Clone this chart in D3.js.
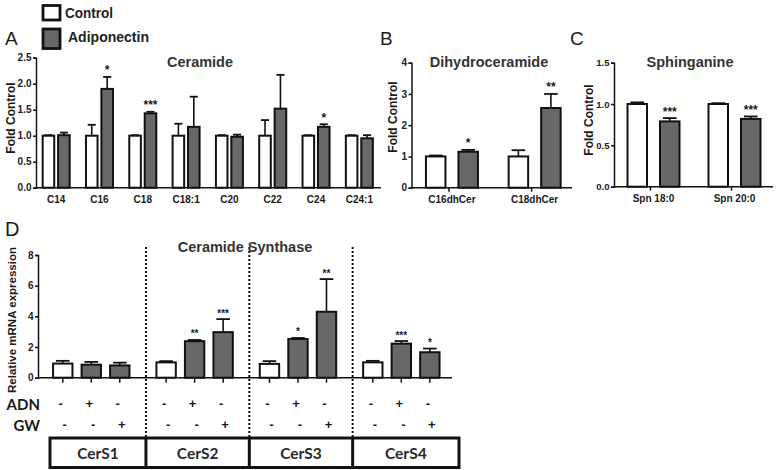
<!DOCTYPE html>
<html>
<head>
<meta charset="utf-8">
<script src="https://cdn.jsdelivr.net/npm/d3@7"></script>
<style>
  body { margin: 0; background: #fff; }
  svg text { fill: #1a1a1a; font-family: "Liberation Sans", Arial, sans-serif; }
  svg text.cal { font-family: Lato, "Open Sans", sans-serif; }
</style>
</head>
<body>
<svg width="777" height="470"></svg>
<script>
// ---- data ----------------------------------------------------------------
var series = ['Control', 'Adiponectin'];

// panel A: ceramide species
var aCats = ['C14', 'C16', 'C18', 'C18:1', 'C20', 'C22', 'C24', 'C24:1'];
var aCtl = [1, 1, 1, 1, 1, 1, 1, 1];
var aCtlErr = [0.01, 0.21, 0.01, 0.23, 0.01, 0.3, 0.01, 0.01];
var aAdn = [1.01, 1.9, 1.43, 1.17, 0.98, 1.52, 1.17, 0.95];
var aAdnErr = [0.05, 0.23, 0.03, 0.58, 0.04, 0.65, 0.05, 0.06];
var aStars = ['', '*', '***', '', '', '', '*', ''];
var aTicks = [0, 0.5, 1, 1.5, 2, 2.5];

// panel B: dihydroceramide
var bCats = ['C16dhCer', 'C18dhCer'];
var bCtl = [1, 1];
var bCtlErr = [0.03, 0.2];
var bAdn = [1.15, 2.55];
var bAdnErr = [0.06, 0.45];
var bStars = ['*', '**'];
var bTicks = [0, 1, 2, 3, 4];

// panel C: sphinganine
var cCats = ['Spn 18:0', 'Spn 20:0'];
var cCtl = [1, 1];
var cCtlErr = [0.02, 0.01];
var cAdn = [0.79, 0.82];
var cAdnErr = [0.04, 0.03];
var cStars = ['***', '***'];
var cTicks = [0, 0.5, 1, 1.5];

// panel D: ceramide synthase mRNA
var dGenes = ['CerS1', 'CerS2', 'CerS3', 'CerS4'];
var dConds = ['ctl', 'adn', 'gw'];
var dAdnRow = ['-', '+', '-'];
var dGwRow = ['-', '-', '+'];
var dVals = [[0.92, 0.85, 0.8], [1.0, 2.38, 2.97], [0.9, 2.52, 4.3], [1.0, 2.22, 1.66]];
var dErr = [[0.18, 0.18, 0.18], [0.08, 0.08, 0.85], [0.18, 0.07, 2.13], [0.1, 0.17, 0.24]];
var dStars = [['', '', ''], ['', '**', '***'], ['', '*', '**'], ['', '***', '*']];
var dTicks = [0, 2, 4, 6, 8];

var grey = '#686868';
var svg = d3.select('svg');

// ---- helpers -------------------------------------------------------------
function yAxis(g, y, x, ticks, fmt, size) {
  g.append('g')
    .attr('transform', 'translate(' + x + ',0)')
    .call(d3.axisLeft(y).tickValues(ticks).tickFormat(fmt).tickSize(3).tickPadding(1.5))
    .call(a => a.select('.domain').attr('stroke', '#111').attr('stroke-width', 1.5))
    .call(a => a.selectAll('.tick line').attr('stroke', '#111').attr('stroke-width', 1.5))
    .call(a => a.selectAll('.tick text').attr('font-size', size || 10).attr('font-weight', 'bold')
      .style('fill', '#222'));
}

function bar(g, x, w, y, v, err, filled, star, starSize) {
  var y0 = y(0);
  var top = y(v + err);
  g.append('line').attr('x1', x + w / 2).attr('x2', x + w / 2)
    .attr('y1', y(v)).attr('y2', top).attr('stroke', '#111').attr('stroke-width', 1.6);
  g.append('line').attr('x1', x + w / 2 - w * 0.35).attr('x2', x + w / 2 + w * 0.35)
    .attr('y1', top).attr('y2', top).attr('stroke', '#111').attr('stroke-width', 1.8);
  g.append('rect').attr('x', x).attr('y', y(v)).attr('width', w).attr('height', y0 - y(v))
    .attr('fill', filled ? grey : '#fff').attr('stroke', '#111').attr('stroke-width', 2);
  if (star) {
    g.append('text').attr('x', x + w / 2).attr('y', top - 2.5)
      .attr('text-anchor', 'middle').attr('font-size', starSize).attr('font-weight', 'bold')
      .text(star);
  }
}

function panel(opts) {
  var g = svg.append('g');
  var y = d3.scaleLinear().domain(opts.domain).range(opts.yRange);
  var x = d3.scaleBand().domain(opts.cats).range(opts.xRange);
  var sub = d3.scaleBand().domain(series).range(opts.subRange).paddingInner(opts.subPad);
  // x axis line
  g.append('line').attr('x1', opts.axisX).attr('x2', opts.xEnd)
    .attr('y1', y(0)).attr('y2', y(0)).attr('stroke', '#111').attr('stroke-width', 1.5);
  opts.cats.forEach((c, i) => {
    var cx = x(c) + x.bandwidth() / 2;
    if (opts.catTicks) {
      g.append('line').attr('x1', cx - 3).attr('x2', cx - 3)
        .attr('y1', y(0)).attr('y2', y(0) + 4).attr('stroke', '#111').attr('stroke-width', 1.5);
    }
    bar(g, cx + sub('Control'), sub.bandwidth(), y, opts.ctl[i], opts.ctlErr[i], false, '', 11);
    bar(g, cx + sub('Adiponectin'), sub.bandwidth(), y, opts.adn[i], opts.adnErr[i], true, opts.stars[i], 12);
    g.append('text').attr('x', cx).attr('y', y(0) + 15).attr('text-anchor', 'middle')
      .attr('font-size', 10).attr('font-weight', 'bold').text(c);
  });
  yAxis(g, y, opts.axisX, opts.ticks, opts.fmt, opts.tickSize);
  g.append('text').attr('x', opts.titleX).attr('y', 67).attr('text-anchor', 'middle')
    .attr('font-size', 14.5).attr('font-weight', 'bold').style('fill', '#333').text(opts.title);
  g.append('text').attr('transform', 'translate(' + opts.labelX + ',' + opts.labelY + ') rotate(-90)')
    .attr('text-anchor', 'middle').attr('font-size', 12).attr('font-weight', 'bold')
    .text('Fold Control');
  g.append('text').attr('x', opts.letterX).attr('y', 45).attr('font-size', 19).text(opts.letter);
}

// ---- legend --------------------------------------------------------------
var legend = svg.append('g');
var legendW = [48, 81];
series.forEach((s, i) => {
  legend.append('rect').attr('x', 43).attr('y', 5.5 + i * 23.5).attr('width', 17).attr('height', 14.5 + i * 5)
    .attr('fill', i ? grey : '#fff').attr('stroke', '#111').attr('stroke-width', 2.8);
  legend.append('text').attr('x', i ? 68 : 65).attr('y', i ? 42 : 17.5)
    .attr('font-size', 15.5).attr('font-weight', 'bold').style('fill', '#222')
    .attr('textLength', legendW[i]).attr('lengthAdjust', 'spacingAndGlyphs').text(s);
});

// ---- panels A, B, C ------------------------------------------------------
panel({
  cats: aCats, ctl: aCtl, ctlErr: aCtlErr, adn: aAdn, adnErr: aAdnErr, stars: aStars,
  domain: [0, 2.5], yRange: [187.7, 57.7], ticks: aTicks, fmt: d3.format('.1f'),
  xRange: [34.5, 381], subRange: [-13.5, 13.5], subPad: 0.25, axisX: 36, xEnd: 381,
  title: 'Ceramide', titleX: 200, labelX: 14.5, labelY: 118, letter: 'A', letterX: 5
});
panel({
  cats: bCats, ctl: bCtl, ctlErr: bCtlErr, adn: bAdn, adnErr: bAdnErr, stars: bStars, catTicks: true,
  domain: [0, 4], yRange: [187.7, 62.7], ticks: bTicks, fmt: d3.format('d'),
  xRange: [410.6, 576], subRange: [-26, 26], subPad: 0.4, axisX: 411.5, xEnd: 572,
  title: 'Dihydroceramide', titleX: 489, labelX: 397, labelY: 117, letter: 'B', letterX: 380
});
panel({
  cats: cCats, ctl: cCtl, ctlErr: cCtlErr, adn: cAdn, adnErr: cAdnErr, stars: cStars, catTicks: true,
  domain: [0, 1.5], yRange: [186.7, 62.7], ticks: cTicks, fmt: d3.format('.1f'), tickSize: 9.5,
  xRange: [613, 775], subRange: [-26, 26], subPad: 0.4, axisX: 614, xEnd: 773,
  title: 'Sphinganine', titleX: 690, labelX: 593, labelY: 120, letter: 'C', letterX: 570
});

// ---- panel D -------------------------------------------------------------
var gD = svg.append('g');
var yD = d3.scaleLinear().domain([0, 8]).range([377.7, 255]);
var xD = d3.scaleBand().domain(dGenes).range([39.6, 453]);
var sD = d3.scaleBand().domain(dConds).range([-38.2, 38.2]).paddingInner(0.32);

gD.append('line').attr('x1', 38).attr('x2', 452).attr('y1', yD(0)).attr('y2', yD(0))
  .attr('stroke', '#111').attr('stroke-width', 1.5);

dGenes.forEach((gene, gi) => {
  var cx = xD(gene) + xD.bandwidth() / 2;
  dConds.forEach((c, ci) => {
    var bx = cx + sD(c);
    var bw = sD.bandwidth();
    gD.append('line').attr('x1', bx + bw / 2).attr('x2', bx + bw / 2)
      .attr('y1', yD(0)).attr('y2', yD(0) + 5).attr('stroke', '#111').attr('stroke-width', 1.5);
    bar(gD, bx, bw, yD, dVals[gi][ci], dErr[gi][ci], ci > 0, dStars[gi][ci], 10);
    gD.append('text').attr('x', bx + bw / 2 - 2).attr('y', 408).attr('text-anchor', 'middle')
      .attr('font-size', 13).attr('font-weight', 'bold').text(dAdnRow[ci]);
    gD.append('text').attr('x', bx + bw / 2 + 2).attr('y', 429).attr('text-anchor', 'middle')
      .attr('font-size', 13).attr('font-weight', 'bold').text(dGwRow[ci]);
  });
  // dotted separators and gene box dividers
  if (gi > 0) {
    var sx = xD(gene) + 3;
    gD.append('line').attr('x1', sx).attr('x2', sx).attr('y1', 247).attr('y2', 438)
      .attr('stroke', '#111').attr('stroke-width', 2).attr('stroke-dasharray', '2,2');
    gD.append('line').attr('x1', sx).attr('x2', sx).attr('y1', 438).attr('y2', 467.5)
      .attr('stroke', '#111').attr('stroke-width', 3);
  }
  var left = gi === 0 ? 50 : xD(gene) + 3;
  var right = gi === dGenes.length - 1 ? 459 : xD(gene) + xD.step() + 3;
  gD.append('text').attr('class', 'cal').attr('x', (left + right) / 2).attr('y', 458.5).attr('text-anchor', 'middle')
    .attr('font-size', 15.5).attr('font-weight', 'bold').style('fill', '#2a2a2a').text(gene);
});

gD.append('rect').attr('x', 50).attr('y', 438).attr('width', 409).attr('height', 29.5)
  .attr('fill', 'none').attr('stroke', '#111').attr('stroke-width', 3);

yAxis(gD, yD, 38, dTicks, d3.format('d'));

gD.append('text').attr('x', 245).attr('y', 252).attr('text-anchor', 'middle')
  .attr('font-size', 14.5).attr('font-weight', 'bold').style('fill', '#333').text('Ceramide Synthase');
gD.append('text').attr('transform', 'translate(16,320) rotate(-90)').attr('text-anchor', 'middle')
  .attr('font-size', 11.5).attr('font-weight', 'bold').text('Relative mRNA expression');
gD.append('text').attr('class', 'cal').attr('x', 40).attr('y', 410).attr('text-anchor', 'end')
  .attr('font-size', 15).attr('font-weight', 'bold').text('ADN');
gD.append('text').attr('class', 'cal').attr('x', 40).attr('y', 431).attr('text-anchor', 'end')
  .attr('font-size', 15).attr('font-weight', 'bold').text('GW');
gD.append('text').attr('x', 5).attr('y', 236).attr('font-size', 20).text('D');
</script>
</body>
</html>
